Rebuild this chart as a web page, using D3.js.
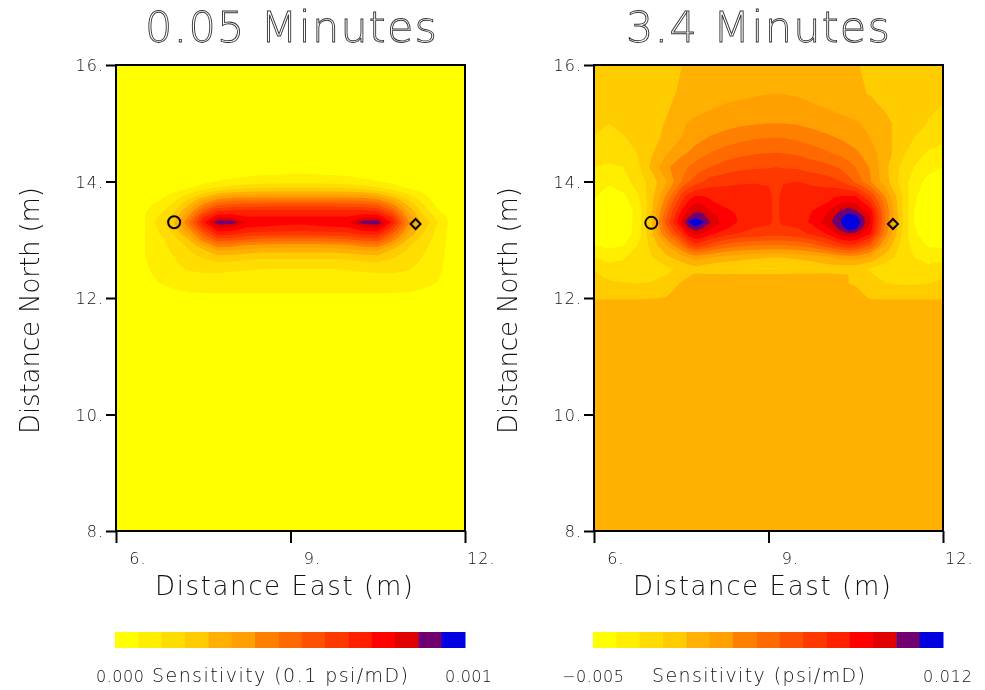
<!DOCTYPE html>
<html><head><meta charset="utf-8">
<script src="https://cdn.jsdelivr.net/npm/d3@7"></script>
<style>
html,body{margin:0;padding:0;background:#fff}
svg{display:block}
text{font-family:"DejaVu Sans",sans-serif;font-weight:200;fill:#111;filter:grayscale(1)}
</style></head><body><div id="c"></div>
<script>
const bandColors=["#ffff00","#ffee00","#ffdd00","#ffcc00","#ffb000","#ff9f00","#ff8000","#ff6a00","#ff5000","#ff3800","#ff2000","#ff0000","#e00000","#700070","#0000e0"];
const xTicks=[6,9,12];
const yTicks=[8,10,12,14,16];
const titles=["0.05 Minutes","3.4 Minutes"];

// Sensitivity, expressed in colour-band units (0..15).
const leftEast=[6,6.25,6.5,6.75,7,7.25,7.5,7.75,8,8.25,8.5,8.75,9,9.25,9.5,9.75,10,10.25,10.5,10.75,11,11.25,11.5,11.75,12];
const leftNorth=[16,14.4,14.2,14,13.9,13.8,13.7,13.6,13.5,13.4,13.3,13.2,13.1,13,12.9,12.8,12.7,12.6,12.5,12.4,12.3,12.2,12.1,12,11.85,8];
const leftBands=[
[0,0,0,0,0,0,0,0,0,0,0,0,0,0,0,0,0,0,0,0,0,0,0,0,0],
[0,0,0,0,0,0,0,0,0,0,0,0,0,0,0,0,0,0,0,0,0,0,0,0,0],
[0,0,0,0,0,.1,.2,.3,.4,.5,.6,.6,.7,.7,.6,.6,.5,.4,.3,.2,.1,0,0,0,0],
[0,0,0,0,.2,.4,.8,1.05,1.2,1.35,1.5,1.55,1.6,1.6,1.55,1.5,1.4,1.2,1.05,.8,.4,.2,0,0,0],
[0,0,.1,.2,.5,.8,1.4,2,2.4,2.7,2.85,2.9,2.9,2.9,2.9,2.85,2.7,2.4,2,1.4,.9,.5,.1,0,0],
[0,0,.3,.6,1.1,1.9,2.9,3.9,4.3,4.45,4.5,4.5,4.5,4.5,4.5,4.5,4.45,4.3,3.9,2.9,1.9,1.1,.4,.1,0],
[0,0,.5,.9,1.7,3,4.6,5.9,6.4,6.5,6.5,6.5,6.5,6.5,6.5,6.5,6.5,6.4,5.9,4.6,3,1.7,.6,.2,0],
[0,.1,.7,1.3,2.2,4,6.3,7.9,8.3,8.4,8.5,8.5,8.5,8.5,8.5,8.5,8.4,8.3,7.9,6.3,4,2.2,.9,.3,0],
[0,.2,.9,1.6,2.8,5,8,9.8,10.2,10.2,10.2,10.2,10.2,10.2,10.2,10.2,10.2,10.2,9.8,8,5,2.8,1.2,.5,0],
[0,.3,1,2.1,3.4,6,9.7,11.6,11.5,11,11,11,11,11,11,11,11,11.5,11.6,9.7,5.8,3.4,1.8,.7,0],
[0,.3,1,2.5,4,7,10.8,13.8,13.6,12,11.6,11.4,11.3,11.3,11.5,11.7,12,13.6,13.8,10.8,6.5,4,2.2,.8,0],
[0,.3,1,2.2,3.6,6,9.5,11.8,11.7,10.9,10.8,10.7,10.6,10.6,10.7,10.8,10.9,11.7,11.8,9.5,5.8,3.5,1.9,.7,0],
[0,.3,1,2,3.1,5,8,10.4,10.3,9.7,9.6,9.5,9.5,9.5,9.5,9.6,9.7,10.3,10.4,8,5,3.1,1.8,.7,0],
[0,.3,1,1.7,2.6,4,6.5,8.5,8.4,7.9,7.6,7.5,7.5,7.5,7.5,7.6,7.9,8.4,8.5,6.5,4,2.6,1.7,.7,0],
[0,.3,1,1.6,2.4,3.2,4.8,6.5,6.3,5.8,5.6,5.5,5.5,5.5,5.5,5.6,5.8,6.3,6.5,4.8,3.2,2.4,1.6,.7,0],
[0,.3,1,1.5,2.2,2.9,3.6,4.8,4.7,4.4,4.2,4.2,4.2,4.2,4.2,4.2,4.4,4.7,4.8,3.6,2.9,2.2,1.5,.7,0],
[0,.3,1,1.4,2,2.6,3.1,3.6,3.5,3.3,3.2,3.2,3.2,3.2,3.2,3.2,3.3,3.5,3.6,3.1,2.6,2,1.4,.7,0],
[0,.3,.95,1.3,1.9,2.4,2.7,2.9,2.8,2.6,2.5,2.5,2.5,2.5,2.5,2.5,2.6,2.8,2.9,2.7,2.4,1.9,1.3,.7,0],
[0,.25,.9,1.25,1.7,2.1,2.3,2.3,2.2,2.1,2,2,2,2,2,2,2.1,2.2,2.3,2.3,2.1,1.7,1.25,.7,0],
[0,.2,.8,1.2,1.5,1.8,1.9,1.9,1.8,1.75,1.7,1.7,1.7,1.7,1.7,1.7,1.75,1.8,1.9,1.9,1.8,1.5,1.2,.6,0],
[0,.1,.6,1.1,1.3,1.5,1.6,1.6,1.55,1.5,1.5,1.5,1.5,1.5,1.5,1.5,1.5,1.55,1.6,1.6,1.5,1.3,1.1,.5,0],
[0,.05,.3,.9,1.1,1.2,1.3,1.3,1.25,1.25,1.25,1.25,1.25,1.25,1.25,1.25,1.25,1.25,1.3,1.3,1.2,1.1,.9,.3,0],
[0,0,.1,.5,.9,1,1.05,1.05,1.05,1.05,1.05,1.05,1.05,1.05,1.05,1.05,1.05,1.05,1.05,1.05,1,.9,.5,.1,0],
[0,0,0,.2,.5,.6,.7,.8,.8,.8,.8,.8,.8,.8,.8,.8,.8,.8,.8,.7,.6,.5,.2,0,0],
[0,0,0,0,0,0,0,0,0,0,0,0,0,0,0,0,0,0,0,0,0,0,0,0,0],
[0,0,0,0,0,0,0,0,0,0,0,0,0,0,0,0,0,0,0,0,0,0,0,0,0]];

const rightEast=[6,6.25,6.5,6.75,7,7.25,7.5,7.625,7.75,7.875,8,8.25,8.5,8.75,9,9.125,9.25,9.5,9.75,10,10.125,10.25,10.375,10.5,10.75,11,11.25,11.5,11.75,12];
const rightNorth=[16,15.5,15,14.75,14.5,14.25,14,13.75,13.65,13.5,13.4,13.3,13.2,13.1,12.9,12.7,12.5,12.4,12.25,12,11.9,8];
const rightBands=[
[3.5,3.5,3.6,3.6,3.7,3.8,3.98,4.1,4.2,4.25,4.3,4.4,4.4,4.5,4.5,4.5,4.5,4.4,4.4,4.3,4.25,4.2,4.12,4.05,3.85,3.7,3.6,3.5,3.4,3.4],
[3.4,3.4,3.5,3.6,3.7,3.85,4.1,4.2,4.3,4.4,4.5,4.7,4.8,4.9,5,5,5,4.9,4.7,4.5,4.4,4.3,4.2,4.15,3.95,3.7,3.5,3.3,3.3,3.15],
[3.3,3,3.3,3.6,3.8,4.05,4.85,5.05,5.2,5.3,5.4,5.6,5.8,5.9,6,6,6,5.9,5.7,5.5,5.4,5.3,5.2,5.1,4.8,4.2,3.8,3.4,2.95,2.7],
[2.95,2.7,2.9,3.4,3.7,4.25,5,5.3,5.6,5.85,6.1,6.4,6.7,6.9,7,7,7,6.8,6.5,6.2,6.05,5.9,5.65,5.4,5,4.3,3.7,3,2.5,2.3],
[2.5,2.3,2.4,3.05,3.9,4.9,5.7,6.05,6.4,6.7,7,7.4,7.7,7.85,7.95,8,7.95,7.8,7.5,7.1,6.9,6.7,6.45,6.2,5.4,4.5,3.5,2.4,1.9,1.6],
[2,1.9,2,2.8,4.3,5.8,6.7,7.05,7.4,7.7,8,8.4,8.7,8.85,8.9,9,8.9,8.8,8.5,8.3,8.05,7.8,7.4,7,5.9,4.3,3,2,1.3,1],
[1.7,1.2,1.6,2.4,3.5,5,7,7.9,8.5,9,9.4,9.7,9.9,9.95,9.9,9.85,9.95,10,9.8,9.5,9.3,9,8.4,7.8,6.1,4.5,2.8,1.5,.7,.9],
[1.1,.5,.8,1.9,3.7,6.2,9.3,10.4,11.05,11,10.9,10.6,10.4,10.3,10.2,9.8,10.2,10.3,10.5,10.7,10.9,11,11.05,11,9,6,3.4,1.2,.4,.2],
[.95,.4,.6,1.6,3.8,6.7,10,11.2,11.9,11.6,11.1,10.7,10.5,10.4,10.2,9.8,10.2,10.4,10.6,10.9,11.3,11.8,12,11.8,10,6.5,3.5,1.1,.3,.15],
[.8,.3,.4,1.3,4,7.5,11,12.2,12.9,12.7,12,11.2,10.8,10.5,10.2,9.8,10.2,10.5,11,11.8,12.5,13.1,13.5,13.1,11.5,7,3.6,1,.2,.1],
[.7,.15,.35,1.35,4,8,11.6,12.9,13.6,13.3,12.5,11.4,10.9,10.5,10.2,9.8,10.2,10.5,11.1,12.1,13,13.9,14.5,14.3,12,7,3.7,1,.15,.1],
[.4,.1,.3,1.4,4,8.5,12,14.1,15,14.1,13,11.5,10.9,10.4,10.2,9.8,10.2,10.5,11.2,12.5,13.2,14.05,15,15,11.9,7,3.7,1,.1,.1],
[.6,.15,.35,1.4,4,7.8,10.8,12.8,13.7,13,12.2,11.2,10.4,10,9.8,9.6,9.8,10,10.7,11.8,12.6,13.6,14.5,14.3,11.6,6.8,3.5,1.1,.25,.2],
[.9,.5,.45,1.4,3.9,7,9.8,11.5,12.2,11.9,11.2,10.4,9.9,9.7,9.4,9.4,9.4,9.6,10.2,11,11.7,12.4,12.9,12.6,11,6.5,3.3,1.2,.4,.3],
[1,.8,.95,2,3.4,5,7,8.6,9.5,9.1,8.6,7.6,7.2,7,6.9,6.9,6.9,7.1,7.6,8.5,9,9.5,9.8,9.6,8,5,3,1.6,.9,.8],
[2,1.6,1.9,2.4,3,3.8,4.5,5,5.5,5.2,5,4.6,4.4,4.2,4.05,4.05,4.05,4.2,4.4,4.8,5.1,5.4,5.5,5.5,4.8,3.6,2.7,2,1.7,1.7],
[3,2.4,2.3,2.2,2.4,2.8,3.2,3.4,3.6,3.4,3.2,3.05,3,2.95,2.95,2.95,3,3.1,3.3,3.4,3.4,3.35,3.3,3.3,2.9,2.5,2.2,2.1,2.2,2.5],
[3.15,2.7,2.6,2.55,2.65,3,3.5,3.9,4.1,4.1,4.1,4.1,4.15,4.15,4.15,4.15,4.15,4.15,4.15,4.15,4.1,4.05,4,3.9,3.1,2.7,2.4,2.4,2.5,2.8],
[3.4,3.2,3.05,3,3.1,3.4,4.1,4.3,4.4,4.4,4.4,4.4,4.4,4.4,4.4,4.4,4.4,4.4,4.4,4.3,4.2,4.1,4,3.9,3.4,3.05,2.9,2.9,3,3.2],
[3.9,3.9,3.9,3.9,3.95,4.05,4.3,4.35,4.4,4.4,4.4,4.4,4.4,4.4,4.4,4.4,4.4,4.4,4.4,4.4,4.4,4.4,4.4,4.4,3.92,3.9,3.9,3.9,3.9,3.9],
[4.3,4.3,4.3,4.3,4.3,4.3,4.4,4.4,4.4,4.4,4.4,4.4,4.4,4.4,4.4,4.4,4.4,4.4,4.4,4.4,4.4,4.4,4.4,4.4,4.4,4.3,4.3,4.3,4.3,4.3],
[4.4,4.4,4.4,4.4,4.4,4.4,4.4,4.4,4.4,4.4,4.4,4.4,4.4,4.4,4.4,4.4,4.4,4.4,4.4,4.4,4.4,4.4,4.4,4.4,4.4,4.4,4.4,4.4,4.4,4.4]];

const circlePts=[[7.0,13.3],[6.985,13.29]];
const diamondPts=[[11.15,13.27],[11.14,13.27]];
const xLabel="Distance East (m)", yLabel="Distance North (m)";
const cbLabels=[["0.000","Sensitivity (0.1 psi/mD)","0.001"],["\u22120.005","Sensitivity (psi/mD)","0.012"]];

const svg=d3.select("#c").append("svg").attr("width",985).attr("height",690);
const panels=[
 {x0:116,east:leftEast,north:leftNorth,bands:leftBands,title:[145,292],ylab:30,xlab:[155,258],cb:[96,48,152,256,445,47]},
 {x0:594,east:rightEast,north:rightNorth,bands:rightBands,title:[626,264],ylab:508,xlab:[633,258],cb:[562,62,652,213,923,49]}
];
const W=349,plotTop=65,H=466;
const clipId=i=>"clip"+i;
panels.forEach((p,i)=>{
 const g=svg.append("g");
 const x=d3.scaleLinear().domain([6,12]).range([p.x0,p.x0+W]);
 const y=d3.scaleLinear().domain([8,16]).range([plotTop+H,plotTop]);
 g.append("clipPath").attr("id",clipId(i)).append("rect").attr("x",p.x0).attr("y",plotTop).attr("width",W).attr("height",H);
 const n=p.east.length,m=p.north.length;
 const xi=d3.scaleLinear().domain(d3.range(n).map(k=>k+.5)).range(p.east.map(x));
 const yi=d3.scaleLinear().domain(d3.range(m).map(k=>k+.5)).range(p.north.map(y));
 const path=d3.geoPath(d3.geoTransform({point(a,b){this.stream.point(xi(a),yi(b));}}));
 const contours=d3.contours().size([n,m]).thresholds(d3.range(1,15))(p.bands.flat());
 const field=g.append("g").attr("clip-path",`url(#${clipId(i)})`);
 field.append("rect").attr("x",p.x0).attr("y",plotTop).attr("width",W).attr("height",H).attr("fill",bandColors[0]);
 field.selectAll("path").data(contours).join("path").attr("d",path).attr("fill",d=>bandColors[d.value]);

 // axes
 const ax=g.append("g").attr("transform",`translate(0,${plotTop+H})`).call(d3.axisBottom(x).tickValues(xTicks).tickSize(12).tickFormat(d=>d+"."));
 const ay=g.append("g").attr("transform",`translate(${p.x0},0)`).call(d3.axisLeft(y).tickValues(yTicks).tickSize(10).tickFormat(d=>d+"."));
 [ax,ay].forEach(a=>{a.select(".domain").remove();a.selectAll("line").attr("stroke","#000").attr("stroke-width",2);
   a.selectAll("text").style("font-size","16px").style("letter-spacing","1px");});
 ax.selectAll("text").attr("text-anchor","end").attr("x",30).attr("y",22).attr("dy","0.71em");
 ay.selectAll("text").attr("x",-12).attr("dy","0.36em");
 g.append("rect").attr("x",p.x0).attr("y",plotTop).attr("width",W).attr("height",H).attr("fill","none").attr("stroke","#000").attr("stroke-width",2);

 // markers
 const c=circlePts[i],dm=diamondPts[i];
 g.append("path").attr("d",d3.symbol(d3.symbolCircle,Math.PI*36)).attr("transform",`translate(${x(c[0])},${y(c[1])})`).attr("fill","none").attr("stroke","#000").attr("stroke-width",2);
 g.append("path").attr("d",d3.symbol(d3.symbolSquare,50)).attr("transform",`translate(${x(dm[0])},${y(dm[1])}) rotate(45)`).attr("fill","none").attr("stroke","#000").attr("stroke-width",2);

 // title and labels
 g.append("text").text(titles[i]).attr("x",p.title[0]).attr("y",42).attr("textLength",p.title[1]).attr("lengthAdjust","spacing")
   .style("font-size","43px").style("fill","#fff").attr("stroke","#333").attr("stroke-width",.9);
 g.append("text").text(xLabel).attr("x",p.xlab[0]).attr("y",595).attr("textLength",p.xlab[1]).attr("lengthAdjust","spacing").style("font-size","26px");
 g.append("text").text(yLabel).attr("transform",`translate(${p.ylab+9},434) rotate(-90)`).attr("textLength",247).attr("lengthAdjust","spacing").style("font-size","26px");

 // colour bar
 const b=d3.scaleBand().domain(d3.range(bandColors.length)).range([p.x0-1,p.x0+W]);
 g.append("g").selectAll("rect").data(bandColors).join("rect").attr("x",(d,k)=>b(k)).attr("y",632).attr("width",b.bandwidth()+.5).attr("height",16).attr("fill",d=>d);
 const t=cbLabels[i];
 [[t[0],p.cb[0],p.cb[1],16],[t[1],p.cb[2],p.cb[3],19],[t[2],p.cb[4],p.cb[5],16]].forEach(a=>{
  g.append("text").text(a[0]).attr("x",a[1]).attr("y",682).attr("textLength",a[2]).attr("lengthAdjust","spacing").style("font-size",a[3]+"px");
 });
});
</script></body></html>
